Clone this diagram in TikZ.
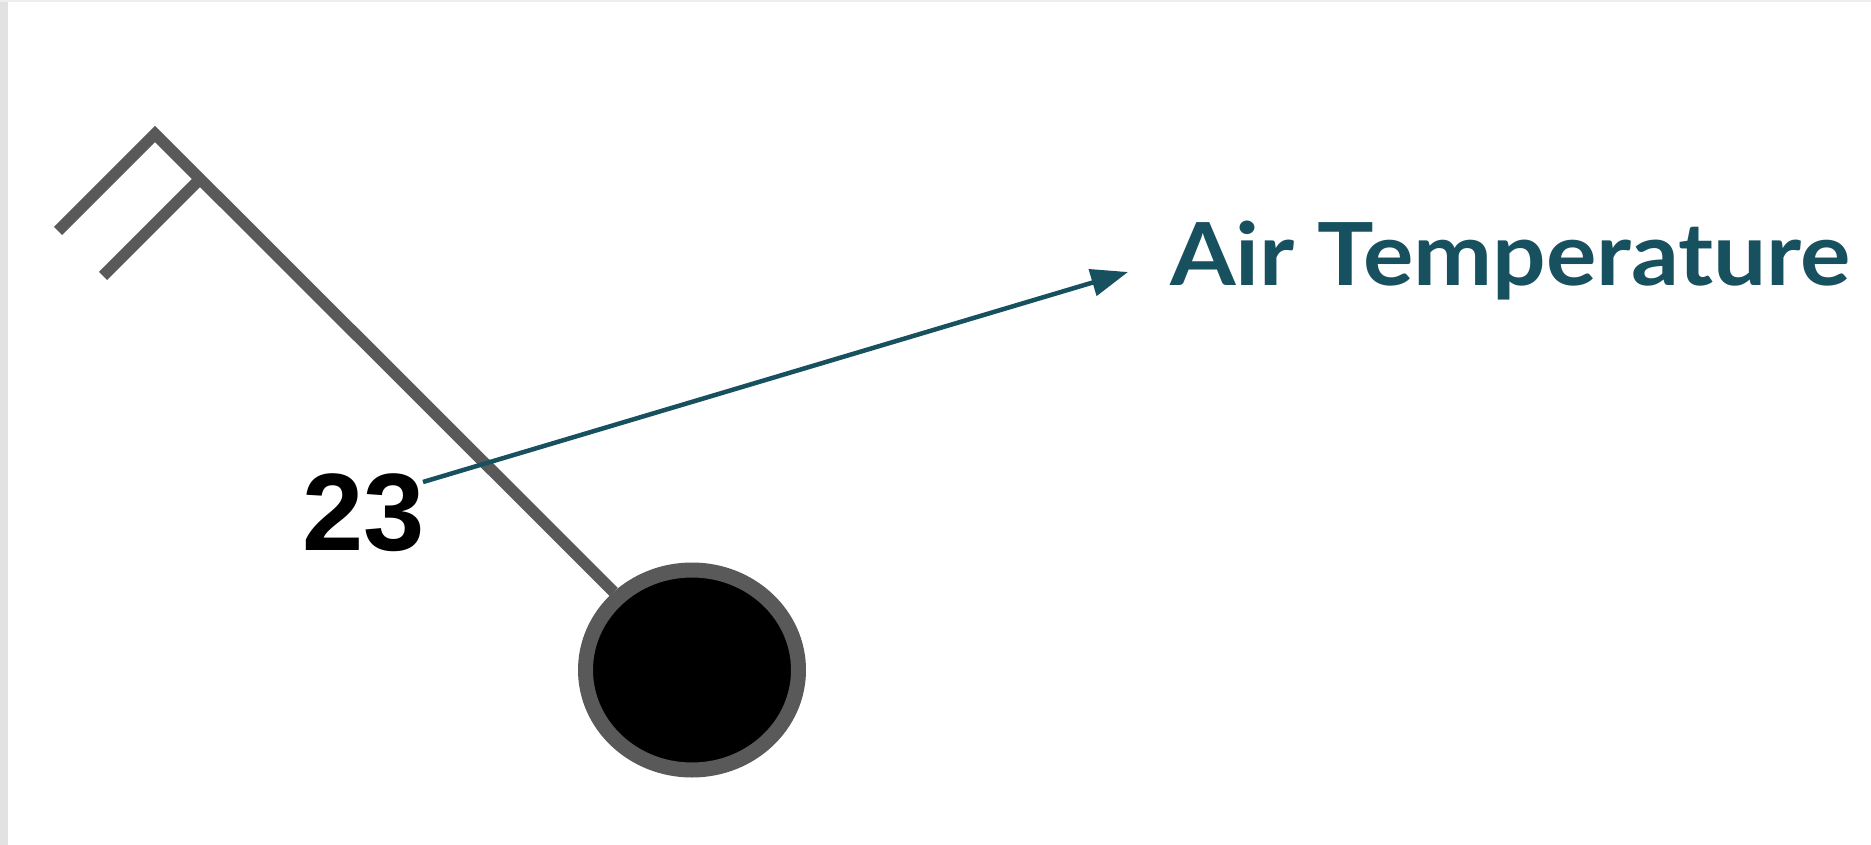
\documentclass[tikz,border=0pt]{standalone}
\usepackage{fontspec}
\setmainfont{Liberation Sans}
\newfontfamily\labelfont{Lato}
\usetikzlibrary{shapes.geometric,arrows.meta}
\definecolor{barbgray}{HTML}{595959}
\definecolor{teal}{HTML}{17505E}
\definecolor{edgegray}{HTML}{E2E2E2}
\tikzset{
  barbline/.style={draw=barbgray, line width=11.5pt, line cap=butt, line join=miter},
  station/.style={ellipse, draw=barbgray, fill=black, line width=15pt, minimum width=213pt, minimum height=200pt, inner sep=0pt},
  pointer/.style={draw=teal, line width=4.5pt, -{Triangle[length=37pt,width=27pt]}},
}
\begin{document}
\begin{tikzpicture}[x=1pt,y=-1pt]
\useasboundingbox (0,0) rectangle (1871,845);
\fill[white] (0,0) rectangle (1871,845);
\fill[edgegray] (0,0) rectangle (8,845);
\fill[edgegray!60] (0,0) rectangle (1871,2);
% station circle
\node[station] (stn) at (692,670) {};
% staff and barbs
\coordinate (tip) at (155,134);
\coordinate (b1end) at (58,231);
\coordinate (b2root) at (200,179);
\coordinate (b2end) at (103,276);
\draw[barbline] (b1end) -- (tip) -- (stn);
\draw[barbline] (b2root) -- (b2end);
% temperature
\node[anchor=base west, inner sep=0pt, font=\fontsize{110}{110}\selectfont\bfseries] (temp) at (302,550) {23};
\coordinate (astart) at (423,482);
\node[anchor=base west, inner sep=0pt, text=teal, font=\labelfont\fontsize{87}{87}\selectfont\bfseries] (lbl) at (1170,285) {\scalebox{1.085}[1]{Air Temperature}};
\coordinate (aend) at (1128,272);
\draw[pointer] (astart) -- (aend);
\end{tikzpicture}
\end{document}
